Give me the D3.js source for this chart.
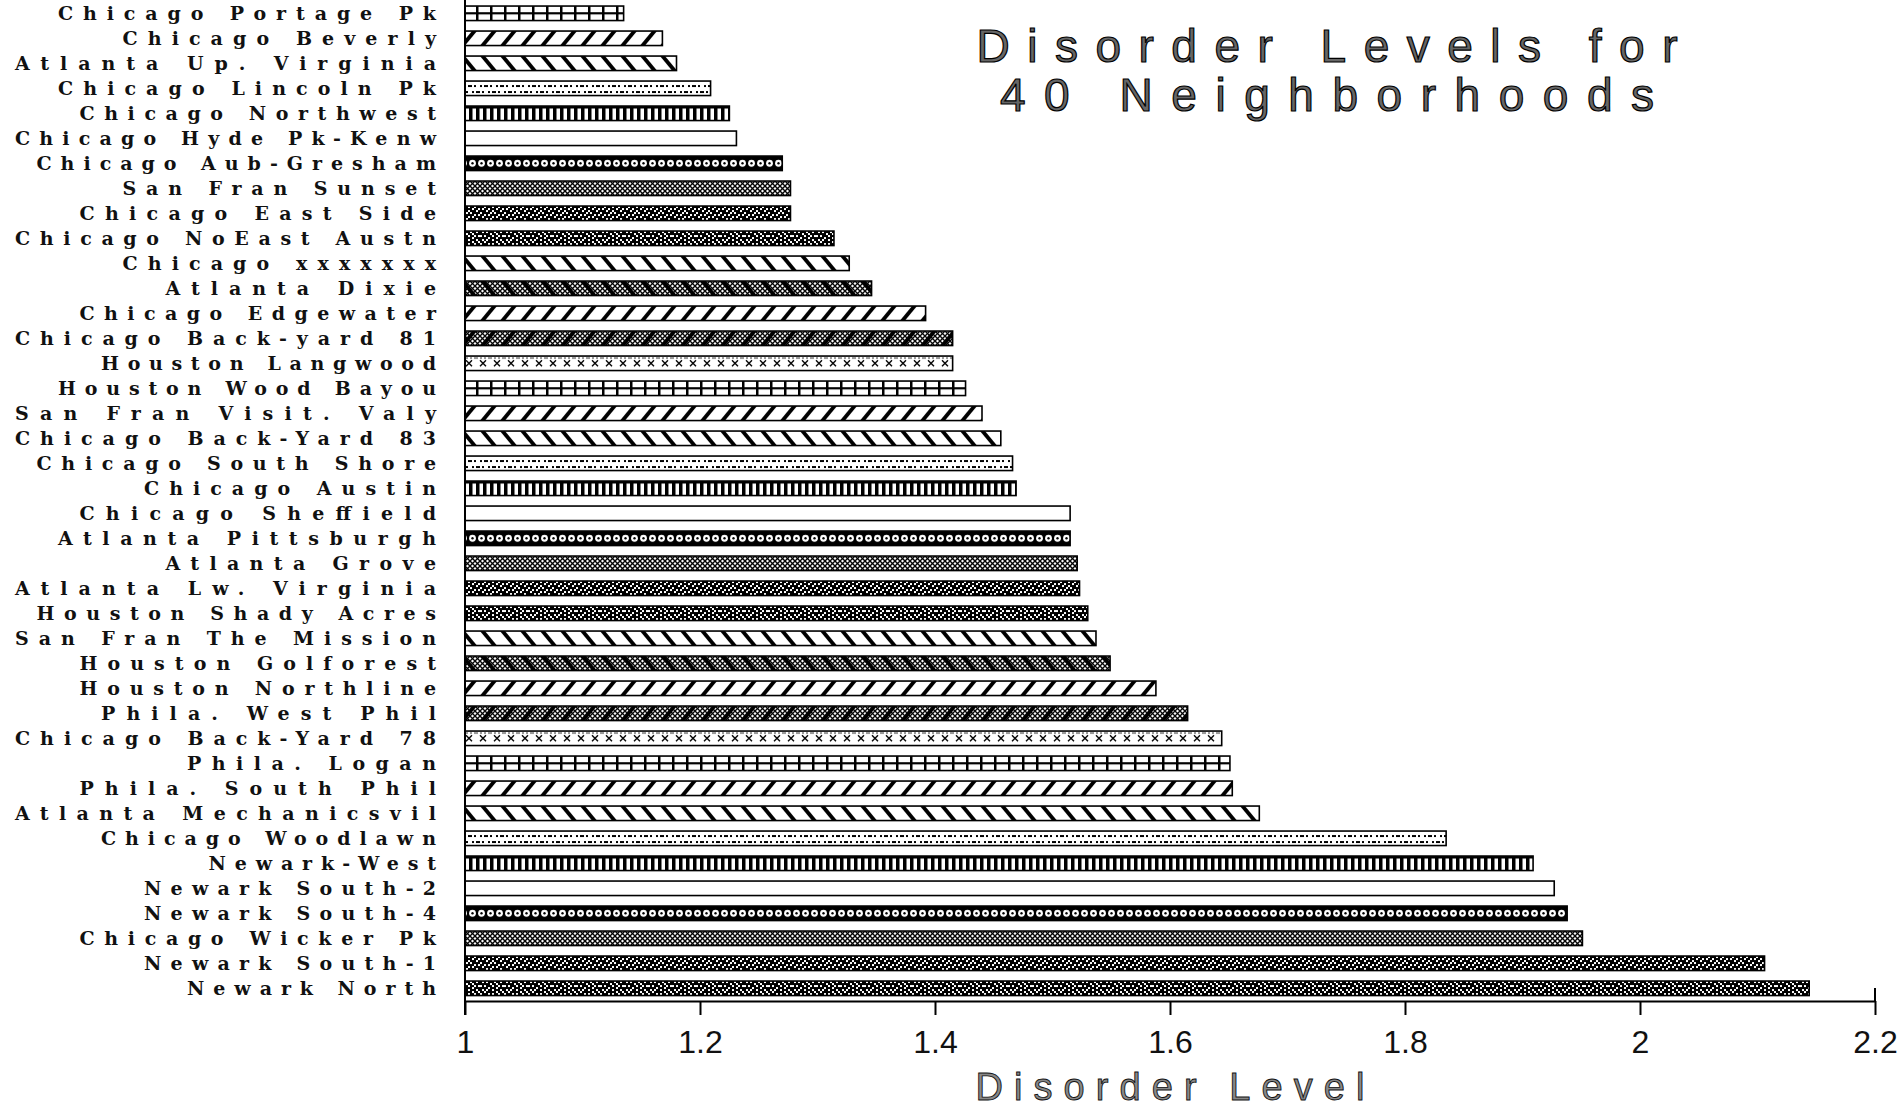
<!DOCTYPE html>
<html>
<head>
<meta charset="utf-8">
<script src="https://cdn.jsdelivr.net/npm/d3@7"></script>
<style>
  body { margin: 0; background: #fff; }
  svg { display: block; }
</style>
</head>
<body>
<svg id="chart"></svg>
<script>
const categories = [
  "Chicago Portage Pk", "Chicago Beverly", "Atlanta Up. Virginia", "Chicago Lincoln Pk",
  "Chicago Northwest", "Chicago Hyde Pk-Kenw", "Chicago Aub-Gresham", "San Fran Sunset",
  "Chicago East Side", "Chicago NoEast Austn", "Chicago xxxxxxx", "Atlanta Dixie",
  "Chicago Edgewater", "Chicago Back-yard 81", "Houston Langwood", "Houston Wood Bayou",
  "San Fran Visit. Valy", "Chicago Back-Yard 83", "Chicago South Shore", "Chicago Austin",
  "Chicago Sheffield", "Atlanta Pittsburgh", "Atlanta Grove", "Atlanta Lw. Virginia",
  "Houston Shady Acres", "San Fran The Mission", "Houston Golforest", "Houston Northline",
  "Phila. West Phil", "Chicago Back-Yard 78", "Phila. Logan", "Phila. South Phil",
  "Atlanta Mechanicsvil", "Chicago Woodlawn", "Newark-West", "Newark South-2",
  "Newark South-4", "Chicago Wicker Pk", "Newark South-1", "Newark North"
]
const values = [
  1.135, 1.168, 1.180, 1.209, 1.225, 1.231, 1.270, 1.277, 1.277, 1.314,
  1.327, 1.346, 1.392, 1.415, 1.415, 1.426, 1.440, 1.456, 1.466, 1.469,
  1.515, 1.515, 1.521, 1.523, 1.530, 1.537, 1.549, 1.588, 1.615, 1.644,
  1.651, 1.653, 1.676, 1.835, 1.909, 1.927, 1.938, 1.951, 2.106, 2.144
]
const tickValues = [1, 1.2, 1.4, 1.6, 1.8, 2, 2.2]
const tickLabels = ["1", "1.2", "1.4", "1.6", "1.8", "2", "2.2"]
const titleLines = ["Disorder Levels for", "40 Neighborhoods"]
const xTitle = "Disorder Level"

const W = 1899, H = 1108
const svg = d3.select('#chart').attr('width', W).attr('height', H)
svg.append('rect').attr('width', W).attr('height', H).attr('fill', '#fff')

const x = d3.scaleLinear().domain([1, 2.2]).range([465, 1875])
const y = d3.scaleBand().domain(categories).range([0.8, 1000.8])
  .paddingInner(0.42).paddingOuter(0.21)

const bh = y.bandwidth()
const step = y.step()
const y0 = y(categories[0])

// --- fill patterns (black & white hatching like the old plotter output)
const defs = svg.append('defs')

function pat(id, w, draw) {
  const p = defs.append('pattern').attr('id', id)
    .attr('patternUnits', 'userSpaceOnUse')
    .attr('width', w).attr('height', step)
    .attr('y', y0)
  p.append('rect').attr('width', w).attr('height', step).attr('fill', '#fff')
  draw(p, w)
}

function bitmap(g, rows, cell) {
  rows.forEach((r, j) => {
    for (let i = 0; i < r.length; i++) {
      if (r[i] === '1') g.append('rect').attr('x', i * cell).attr('y', j * cell)
        .attr('width', cell).attr('height', cell).attr('fill', '#000')
    }
  })
}

function stripes(g, w, fwd, thick) {
  [-w, 0, w].forEach(o => {
    const pts = fwd
      ? [[o, bh], [o + thick, bh], [o + thick + 12, 0], [o + 12, 0]]
      : [[o, 0], [o + thick, 0], [o + thick + 12, bh], [o + 12, bh]]
    g.append('polygon').attr('points', pts.map(p => p.join(',')).join(' ')).attr('fill', '#000')
  })
}

function hatch(g, w) {
  let d = ''
  for (let k = 0; k < 4; k++) {
    d += `M0,${k * 5}L5,${k * 5 + 5}M5,${k * 5}L0,${k * 5 + 5}`
  }
  g.append('path').attr('d', d).attr('stroke', '#000').attr('stroke-width', 1.3).attr('fill', 'none')
}

pat('grid', 14, (p) => {
  p.append('line').attr('x1', 0).attr('x2', 14).attr('y1', bh / 2).attr('y2', bh / 2)
    .attr('stroke', '#000').attr('stroke-width', 2.2)
  p.append('rect').attr('x', 0).attr('y', 0).attr('width', 2.5).attr('height', bh).attr('fill', '#000')
})
pat('fwd', 20, (p, w) => stripes(p, w, true, 5))
pat('back', 20, (p, w) => stripes(p, w, false, 5))
pat('finenoise', 16, (p) => {
  bitmap(p.append('g').attr('transform', 'translate(0,4)'), [
    "10110100",
    "00000000",
    "00000000",
    "01001011"
  ], 2)
})
pat('vbars', 7, (p) => {
  p.append('rect').attr('x', 0).attr('y', 0).attr('width', 3.5).attr('height', bh).attr('fill', '#000')
  p.append('rect').attr('x', 0).attr('y', 0).attr('width', 7).attr('height', 2.5).attr('fill', '#000')
})
pat('empty', 10, () => {})
pat('circles', 9, (p) => {
  p.append('rect').attr('width', 9).attr('height', bh).attr('fill', '#000')
  p.append('circle').attr('cx', 4.5).attr('cy', bh / 2).attr('r', 3.4).attr('fill', '#fff')
  p.append('circle').attr('cx', 4.5).attr('cy', bh / 2).attr('r', 1.2).attr('fill', '#000')
})
pat('crosshatch', 5, (p, w) => hatch(p, w))
pat('dark1', 24, (p) => bitmap(p, [
  "110111011011",
  "101101110110",
  "111011011101",
  "011110101111",
  "110101111010",
  "101111010111",
  "111010111101",
  "111111111111"
], 2))
pat('dark2', 24, (p) => bitmap(p, [
  "101011101101",
  "111110110111",
  "010111011010",
  "111101110111",
  "101011011101",
  "110111110110",
  "011101011011",
  "111111111111"
], 2))
pat('darkback', 20, (p, w) => {
  for (let i = 0; i < 4; i++) hatch(p.append('g').attr('transform', `translate(${i * 5},0)`), 5)
  stripes(p, w, false, 5)
})
pat('darkfwd', 20, (p, w) => {
  for (let i = 0; i < 4; i++) hatch(p.append('g').attr('transform', `translate(${i * 5},0)`), 5)
  stripes(p, w, true, 5)
})
pat('xcross', 14, (p) => {
  const c = bh / 2
  p.append('path').attr('d', `M4,${c - 3}L10,${c + 3}M10,${c - 3}L4,${c + 3}`)
    .attr('stroke', '#000').attr('stroke-width', 1.4)
  p.append('line').attr('x1', 0).attr('x2', 14).attr('y1', 2).attr('y2', 2)
    .attr('stroke', '#000').attr('stroke-width', 0.8).attr('stroke-dasharray', '2,2')
})

const patternCycle = ['grid', 'fwd', 'back', 'finenoise', 'vbars', 'empty', 'circles',
  'crosshatch', 'dark1', 'dark2', 'back', 'darkback', 'fwd', 'darkfwd', 'xcross']

// --- bars
svg.append('g').selectAll('rect')
  .data(categories)
  .join('rect')
    .attr('x', x(1))
    .attr('y', d => y(d))
    .attr('width', (d, i) => x(values[i]) - x(1))
    .attr('height', bh)
    .attr('fill', (d, i) => `url(#${patternCycle[i % patternCycle.length]})`)
    .attr('stroke', '#000')
    .attr('stroke-width', 1.6)

// --- category labels (wide bitmap-like serif)
svg.append('g').selectAll('text')
  .data(categories)
  .join('text')
    .attr('x', 436)
    .attr('y', d => y(d) + bh / 2)
    .attr('dy', '0.36em')
    .attr('text-anchor', 'end')
    .attr('font-family', '"DejaVu Serif", serif')
    .attr('font-weight', 'bold')
    .attr('font-size', 19)
    .attr('fill', '#111')
    .attr('textLength', d => d.length * 21.5 - 9)
    .attr('lengthAdjust', 'spacing')
    .text(d => d)

// --- axes
svg.append('line').attr('x1', x(1)).attr('x2', x(1)).attr('y1', 0).attr('y2', 1015)
  .attr('stroke', '#000').attr('stroke-width', 2)

const xAxis = d3.axisBottom(x)
  .tickValues(tickValues)
  .tickFormat((d, i) => tickLabels[i])
  .tickSizeInner(14)
  .tickSizeOuter(0)
  .tickPadding(15)

const gx = svg.append('g').attr('transform', 'translate(0,1001)').call(xAxis)
gx.select('.domain').attr('stroke', '#000').attr('stroke-width', 2)
gx.selectAll('.tick line').attr('stroke', '#000').attr('stroke-width', 2)
gx.selectAll('.tick text')
  .attr('font-family', '"Liberation Sans", Arial, sans-serif')
  .attr('font-size', 32)
  .attr('fill', '#111')

// the last tick crosses the axis line
svg.append('line').attr('x1', x(2.2)).attr('x2', x(2.2)).attr('y1', 988).attr('y2', 1001)
  .attr('stroke', '#000').attr('stroke-width', 2)

// --- titles
const title = svg.append('g')
  .attr('font-family', '"Liberation Sans", Arial, sans-serif')
  .attr('font-size', 46)
  .attr('fill', '#666')
  .attr('stroke', '#000')
  .attr('stroke-width', 1.2)
  .attr('text-anchor', 'middle')
title.selectAll('text')
  .data(titleLines)
  .join('text')
    .attr('x', 1327)
    .attr('y', (d, i) => 62 + i * 49)
    .attr('textLength', (d, i) => i === 0 ? 701 : 654)
    .attr('lengthAdjust', 'spacing')
    .text(d => d)

svg.append('text')
  .attr('x', 1170)
  .attr('y', 1100)
  .attr('text-anchor', 'middle')
  .attr('font-family', '"Liberation Sans", Arial, sans-serif')
  .attr('font-size', 38)
  .attr('fill', '#888')
  .attr('stroke', '#111')
  .attr('stroke-width', 0.9)
  .attr('textLength', 389)
  .attr('lengthAdjust', 'spacing')
  .text(xTitle)
</script>
</body>
</html>
